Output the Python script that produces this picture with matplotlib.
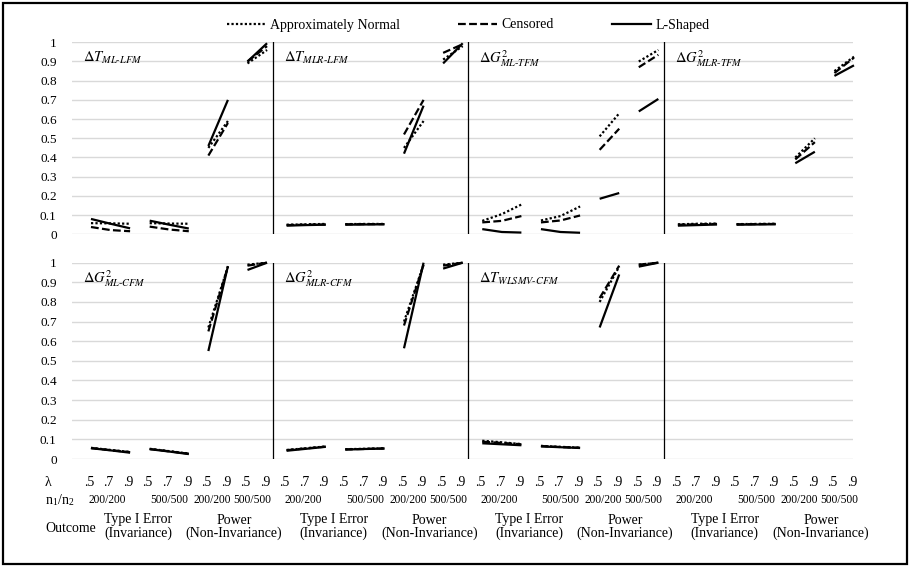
import numpy as np
import matplotlib.pyplot as plt
from matplotlib.lines import Line2D
from matplotlib.patches import Rectangle
import matplotlib.transforms as mtransforms

plt.rcParams['font.family'] = ['Liberation Serif', 'DejaVu Serif']
plt.rcParams['mathtext.fontset'] = 'stix'

W, H = 909, 566

# order inside a panel: Type I 200/200 (.5 .7 .9), Type I 500/500 (.5 .7 .9),
# Power 200/200 (.5 .9), Power 500/500 (.5 .9)
lambda_labels = ['.5', '.7', '.9', '.5', '.7', '.9', '.5', '.9', '.5', '.9']
n_labels = ['200/200', '500/500', '200/200', '500/500']
outcome_labels = ['Type I Error\n(Invariance)', 'Power\n(Non-Invariance)']
series_names = ['Approximately Normal', 'Censored', 'L-Shaped']

top_titles = [r'$\Delta T_{ML\text{-}LFM}$', r'$\Delta T_{MLR\text{-}LFM}$',
              r'$\Delta G^2_{ML\text{-}TFM}$', r'$\Delta G^2_{MLR\text{-}TFM}$']
bottom_titles = [r'$\Delta G^2_{ML\text{-}CFM}$', r'$\Delta G^2_{MLR\text{-}CFM}$',
                 r'$\Delta T_{WLSMV\text{-}CFM}$', '']

# top row
t_ml_lfm_normal = [0.058, 0.057, 0.055, 0.058, 0.056, 0.055, 0.45, 0.59, 0.89, 0.96]
t_ml_lfm_cens = [0.038, 0.022, 0.016, 0.040, 0.025, 0.016, 0.41, 0.58, 0.90, 0.98]
t_ml_lfm_lshape = [0.080, 0.055, 0.031, 0.071, 0.050, 0.030, 0.46, 0.70, 0.90, 0.995]

t_mlr_lfm_normal = [0.050, 0.052, 0.054, 0.053, 0.054, 0.054, 0.45, 0.59, 0.91, 0.98]
t_mlr_lfm_cens = [0.048, 0.050, 0.051, 0.052, 0.053, 0.053, 0.52, 0.70, 0.945, 0.99]
t_mlr_lfm_lshape = [0.045, 0.048, 0.050, 0.050, 0.051, 0.052, 0.42, 0.67, 0.89, 0.995]

g_ml_tfm_normal = [0.070, 0.105, 0.155, 0.072, 0.095, 0.145, 0.51, 0.63, 0.90, 0.96]
g_ml_tfm_cens = [0.062, 0.070, 0.095, 0.062, 0.072, 0.098, 0.44, 0.55, 0.87, 0.935]
g_ml_tfm_lshape = [0.027, 0.012, 0.009, 0.027, 0.012, 0.008, 0.185, 0.215, 0.64, 0.705]

g_mlr_tfm_normal = [0.052, 0.055, 0.056, 0.053, 0.054, 0.055, 0.40, 0.50, 0.85, 0.925]
g_mlr_tfm_cens = [0.050, 0.052, 0.054, 0.052, 0.053, 0.054, 0.39, 0.48, 0.84, 0.92]
g_mlr_tfm_lshape = [0.045, 0.048, 0.051, 0.050, 0.051, 0.052, 0.37, 0.43, 0.825, 0.88]

# bottom row
g_ml_cfm_normal = [0.057, 0.046, 0.036, 0.052, 0.040, 0.028, 0.67, 0.98, 0.99, 1.0]
g_ml_cfm_cens = [0.056, 0.045, 0.035, 0.051, 0.039, 0.027, 0.65, 0.98, 0.985, 1.0]
g_ml_cfm_lshape = [0.055, 0.044, 0.032, 0.050, 0.038, 0.025, 0.55, 0.983, 0.963, 1.0]

g_mlr_cfm_normal = [0.046, 0.055, 0.064, 0.050, 0.052, 0.055, 0.70, 0.99, 0.99, 1.0]
g_mlr_cfm_cens = [0.045, 0.054, 0.063, 0.049, 0.051, 0.054, 0.68, 0.99, 0.985, 1.0]
g_mlr_cfm_lshape = [0.042, 0.052, 0.062, 0.048, 0.051, 0.053, 0.564, 1.0, 0.97, 1.0]

t_wlsmv_cfm_normal = [0.093, 0.085, 0.076, 0.067, 0.062, 0.058, 0.80, 0.98, 0.99, 1.0]
t_wlsmv_cfm_cens = [0.088, 0.082, 0.075, 0.066, 0.061, 0.057, 0.82, 0.985, 0.99, 1.0]
t_wlsmv_cfm_lshape = [0.080, 0.075, 0.070, 0.064, 0.060, 0.056, 0.67, 0.94, 0.98, 1.0]

top_panels = [
    (t_ml_lfm_normal, t_ml_lfm_cens, t_ml_lfm_lshape),
    (t_mlr_lfm_normal, t_mlr_lfm_cens, t_mlr_lfm_lshape),
    (g_ml_tfm_normal, g_ml_tfm_cens, g_ml_tfm_lshape),
    (g_mlr_tfm_normal, g_mlr_tfm_cens, g_mlr_tfm_lshape),
]
bottom_panels = [
    (g_ml_cfm_normal, g_ml_cfm_cens, g_ml_cfm_lshape),
    (g_mlr_cfm_normal, g_mlr_cfm_cens, g_mlr_cfm_lshape),
    (t_wlsmv_cfm_normal, t_wlsmv_cfm_cens, t_wlsmv_cfm_lshape),
    None,
]

styles = [(0, (1, 1)), (0, (3.5, 1.5)), '-']
groups = [(0, 3), (3, 6), (6, 8), (8, 10)]
dividers = [9.28, 19.28, 29.28]
panel_left = [-0.97, 9.28, 19.28, 29.28]

fig = plt.figure(figsize=(W / 100, H / 100), dpi=100)


def make_axes(top_px, bottom_px):
    ax = fig.add_axes([72 / W, 1 - bottom_px / H, (853 - 72) / W, (bottom_px - top_px) / H])
    ax.set_xlim(-0.97, 38.95)
    ax.set_ylim(0, 1)
    ax.set_yticks(np.arange(0, 1.01, 0.1))
    ax.set_yticklabels(['0'] + ['{:.1f}'.format(v) for v in np.arange(0.1, 0.95, 0.1)] + ['1'])
    ax.set_xticks([])
    ax.tick_params(axis='y', length=0, pad=11, labelsize=9.5)
    ax.yaxis.grid(True, color='#d9d9d9', lw=1)
    ax.set_axisbelow(True)
    for s in ax.spines.values():
        s.set_visible(False)
    for d in dividers:
        ax.axvline(d, color='black', lw=0.9)
    return ax


ax_top = make_axes(42.3, 234.3)
ax_bot = make_axes(262.7, 459)

for ax, panels, titles in [(ax_top, top_panels, top_titles), (ax_bot, bottom_panels, bottom_titles)]:
    for k, panel in enumerate(panels):
        if titles[k]:
            ax.annotate(titles[k], xy=(panel_left[k], 1), xycoords='data',
                        xytext=(11, -16), textcoords='offset pixels',
                        ha='left', va='center', fontsize=10.5)
        if panel is None:
            continue
        for vals, ls in zip(panel, styles):
            for a, b in groups:
                x = np.arange(a, b) + 10 * k
                ax.plot(x, vals[a:b], color='black', lw=1.6, ls=ls, clip_on=False,
                        solid_capstyle='butt', dash_capstyle='butt')

# table below the bottom axes
trans = mtransforms.blended_transform_factory(ax_bot.transData, fig.transFigure)
fig.text(45 / W, 1 - 482 / H, 'λ', fontsize=10, ha='left', va='center')
fig.text(45 / W, 1 - 500 / H, r'n$_\mathregular{1}$/n$_\mathregular{2}$', fontsize=10, ha='left', va='center')
fig.text(45 / W, 1 - 529 / H, 'Outcome', fontsize=10, ha='left', va='center')
for k in range(4):
    for i, lab in enumerate(lambda_labels):
        fig.text(10 * k + i - 0.1, 1 - 482 / H, lab, transform=trans, fontsize=10, ha='center', va='center')
    n_pos = [1 - 0.15, 4, 6.5 - 0.3, 8.5 - 0.25]
    for p, lab in zip(n_pos, n_labels):
        fig.text(10 * k + p, 1 - 500 / H, lab, transform=trans, fontsize=8.3, ha='center', va='center')
    fig.text(10 * k + 2.4, 1 - 527 / H, outcome_labels[0], transform=trans, fontsize=10,
             ha='center', va='center', linespacing=1.05)
    fig.text(10 * k + 7.3, 1 - 527 / H, outcome_labels[1], transform=trans, fontsize=10,
             ha='center', va='center', linespacing=1.05)

handles = [Line2D([], [], color='black', lw=1.6, ls=ls) for ls in styles]
fig.legend(handles, series_names, loc='center', bbox_to_anchor=(468 / W, 1 - 25 / H),
           ncol=3, frameon=False, fontsize=10, handlelength=2.8, handletextpad=0.3,
           columnspacing=4.2)

fig.patches.append(Rectangle((2.5 / W, 2.5 / H), (906.5 - 2.5) / W, (563.5 - 2.5) / H,
                             transform=fig.transFigure, fill=False, lw=1.6, ec='black'))

fig.savefig('out.png', dpi=100)
